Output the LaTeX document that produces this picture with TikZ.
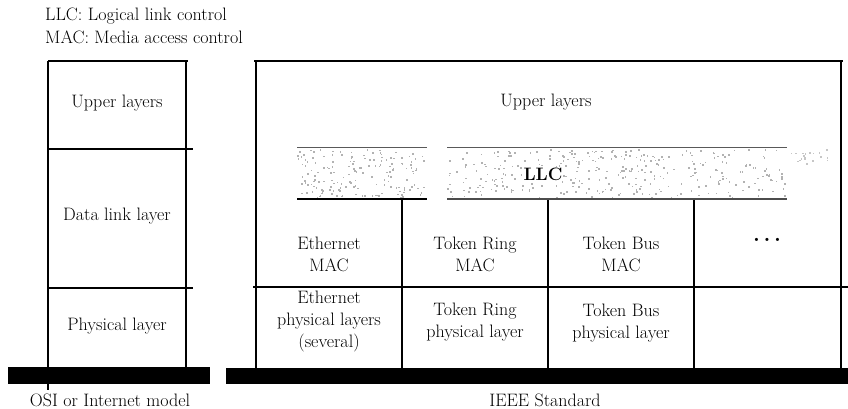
\documentclass[tikz,border=0pt]{standalone}
\usepackage{fontspec}
\begin{document}
\begin{tikzpicture}[x=1pt,y=-1pt,
  txt/.style={font=\rmfamily\fontsize{18}{22}\selectfont, align=center, inner sep=0pt},
  rule/.style={line width=1.4pt},
  bar/.style={fill=black},
  speck/.style={fill=gray!60}]
\useasboundingbox (0,0) rectangle (848,409);
% legend
\node[txt, anchor=west] (leg1) at (45,16) {LLC: Logical link control};
\node[txt, anchor=west] (leg2) at (45,37) {MAC: Media access control};

% ---- OSI / Internet model ----
\draw[rule] (48,61) -- (188,61);
\draw[rule] (48,61) -- (48,390);
\draw[rule] (186,61) -- (186,367);
\draw[rule] (48,149) -- (193,149);
\draw[rule] (48,288) -- (193,288);
\fill[bar] (8,367) rectangle (210,384);
\node[txt] (osiU) at (117,103) {Upper layers};
\node[txt] (osiD) at (117,216) {Data link layer};
\node[txt] (osiP) at (117,326) {Physical layer};
\node[txt] (osiL) at (110,400) {OSI or Internet model};

% ---- IEEE standard ----
\draw[rule] (254,61) -- (843,61);
\draw[rule] (256,61) -- (256,368);
\draw[rule] (841,61) -- (841,368);
\draw[rule] (253,287) -- (848,287);
\draw[rule] (402,199) -- (402,368);
\draw[rule] (548,199) -- (548,368);
\draw[rule] (694,199) -- (694,368);
\fill[bar] (226,368) rectangle (848,384);

% LLC band with speckled texture
\pgfmathsetseed{7}
\foreach \i in {1,...,170}{
  \pgfmathsetmacro\xx{297+rnd*128}
  \pgfmathsetmacro\yy{149+rnd*48}
  \fill[speck] (\xx,\yy) rectangle ++(1.6,1.6);
}
\foreach \i in {1,...,340}{
  \pgfmathsetmacro\xx{447+rnd*338}
  \pgfmathsetmacro\yy{149+rnd*48}
  \fill[speck] (\xx,\yy) rectangle ++(1.6,1.6);
}
\foreach \i in {1,...,20}{
  \pgfmathsetmacro\xx{787+rnd*45}
  \pgfmathsetmacro\yy{149+rnd*14}
  \fill[gray!45] (\xx,\yy) rectangle ++(1.6,1.6);
}
\draw[line width=1pt, gray!70!black] (297,147) -- (427,147);
\draw[line width=1pt, gray!70!black] (447,147) -- (787,147);
\draw[line width=1.6pt] (297,199) -- (427,199);
\draw[line width=1.6pt, gray!60!black] (447,199) -- (787,199);
\node[txt, font=\rmfamily\fontsize{18}{22}\selectfont\bfseries, fill=white, inner sep=1pt] (llc) at (543,174) {LLC};

\node[txt] (ieeeU) at (546,102) {Upper layers};
\node[txt] (emac) at (329,254) {Ethernet\\MAC};
\node[txt] (trmac) at (475,254) {Token Ring\\MAC};
\node[txt] (tbmac) at (621,254) {Token Bus\\MAC};
\node[txt, font=\rmfamily\fontsize{22}{22}\selectfont\bfseries] (dots) at (767,240) {.\,.\,.};
\node[txt] (ephy) at (329,322) {Ethernet\\physical layers\\(several)};
\node[txt] (trphy) at (475,322) {Token Ring\\physical layer};
\node[txt] (tbphy) at (621,323) {Token Bus\\physical layer};
\node[txt] (ieeeL) at (545,400) {IEEE Standard};
\end{tikzpicture}
\end{document}
